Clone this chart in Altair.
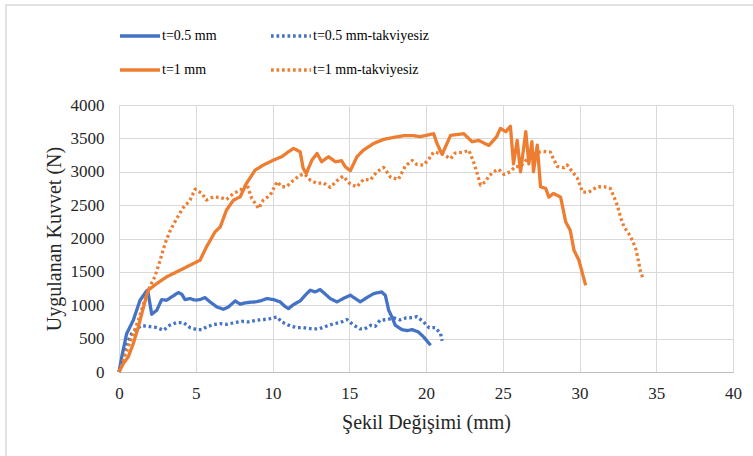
import altair as alt
import pandas as pd

# ---- data ----
series_names = ["t=0.5 mm", "t=0.5 mm-takviyesiz", "t=1 mm", "t=1 mm-takviyesiz"]
series_colors = ["#4472C4", "#4472C4", "#ED7D31", "#ED7D31"]

b05_x = [0, 0.2, 0.5, 0.93, 1.37, 1.8, 1.87, 2.13, 2.46, 2.78,
         3.1, 3.43, 3.87, 4.09, 4.3, 4.63, 4.96, 5.28, 5.6, 5.93,
         6.37, 6.8, 7.13, 7.57, 7.9, 8.2, 8.54, 8.87, 9.2, 9.63,
         10.07, 10.5, 10.8, 11.04, 11.37, 11.8, 12.13, 12.46, 12.78, 13.1,
         13.4, 13.76, 14.2, 14.6, 15.07, 15.4, 15.72, 16.15, 16.6, 17.1,
         17.35, 17.57, 17.78, 18.0, 18.43, 18.77, 19.1, 19.5, 19.85, 20.3]
b05_y = [0, 250, 575, 775, 1075, 1215, 1225, 865, 925, 1085,
         1075, 1125, 1190, 1165, 1085, 1100, 1075, 1085, 1115, 1050,
         975, 940, 975, 1065, 1015, 1035, 1045, 1050, 1065, 1100,
         1085, 1050, 985, 950, 1010, 1065, 1150, 1225, 1200, 1235,
         1175, 1100, 1050, 1100, 1150, 1100, 1050, 1115, 1175, 1200,
         1150, 925, 825, 700, 635, 620, 635, 600, 525, 400]

b05t_x = [0, 0.28, 0.5, 0.83, 1.15, 1.48, 1.9, 2.46, 2.9, 3.3,
          3.76, 4.2, 4.63, 5.07, 5.4, 5.7, 6.15, 6.6, 7.0, 7.46,
          8.0, 8.43, 8.98, 9.4, 9.85, 10.3, 10.6, 11.15, 11.6, 12.0,
          12.57, 13.0, 13.5, 14.0, 14.4, 14.85, 15.3, 15.7, 16.0, 16.4,
          16.7, 17.0, 17.46, 17.9, 18.3, 18.7, 19.1, 19.4, 19.85, 20.2,
          20.6, 20.95, 21.05]
b05t_y = [0, 225, 425, 575, 650, 695, 685, 665, 625, 700,
          740, 740, 665, 635, 635, 675, 710, 725, 715, 735,
          760, 750, 775, 785, 800, 825, 750, 690, 665, 665,
          645, 645, 685, 725, 740, 785, 700, 645, 645, 700,
          685, 775, 785, 810, 780, 810, 815, 830, 750, 665,
          665, 575, 465]

o1_x = [0, 0.28, 0.6, 0.93, 1.26, 1.6, 1.9, 2.46, 3.1, 3.98,
        4.63, 5.28, 5.7, 6.26, 6.6, 7.0, 7.46, 7.9, 8.3, 8.87,
        9.4, 10.07, 10.6, 11.04, 11.37, 11.8, 12.0, 12.2, 12.57, 12.9,
        13.2, 13.65, 14.1, 14.5, 14.74, 15.07, 15.5, 15.93, 16.6, 17.24,
        17.9, 18.54, 19.2, 19.63, 20.5, 20.72, 21.05, 21.6, 22.46, 23.0,
        23.44, 23.77, 24.1, 24.6, 24.85, 25.2, 25.5, 25.7, 25.94, 26.16,
        26.5, 26.7, 26.9, 27.0, 27.25, 27.46, 27.8, 28.0, 28.3, 28.77,
        29.1, 29.4, 29.64, 29.96, 30.4]
o1_y = [0, 125, 225, 425, 675, 975, 1225, 1325, 1425, 1525,
        1600, 1675, 1875, 2100, 2175, 2425, 2575, 2625, 2825, 3025,
        3100, 3175, 3225, 3300, 3350, 3300, 3050, 2975, 3175, 3275,
        3150, 3225, 3150, 3165, 3075, 3015, 3225, 3325, 3425, 3485,
        3515, 3540, 3540, 3525, 3570, 3420, 3260, 3545, 3570, 3450,
        3470, 3430, 3395, 3525, 3650, 3600, 3680, 3120, 3470, 3000,
        3600, 3120, 3450, 3000, 3400, 2775, 2750, 2620, 2675, 2620,
        2250, 2120, 1825, 1675, 1300]

o1t_x = [0, 0.28, 0.6, 0.93, 1.26, 1.6, 2.0, 2.33, 2.65, 3.0,
         3.3, 3.76, 4.2, 4.63, 4.96, 5.4, 5.7, 6.15, 6.6, 7.0,
         7.46, 7.9, 8.33, 8.65, 9.1, 9.4, 9.85, 10.3, 10.6, 10.9,
         11.37, 11.8, 12.1, 12.46, 12.9, 13.3, 13.76, 14.2, 14.6, 15.07,
         15.5, 15.93, 16.37, 16.8, 17.24, 17.7, 18.2, 18.65, 19.1, 19.4,
         19.85, 20.2, 20.5, 21.05, 21.6, 21.9, 22.46, 22.8, 23.1, 23.3,
         23.55, 23.87, 24.1, 24.4, 24.74, 25.07, 25.5, 25.8, 26.16, 26.6,
         27.0, 27.57, 28.1, 28.3, 28.55, 29.0, 29.2, 29.5, 29.85, 30.2,
         30.6, 31.16, 31.6, 32.0, 32.25, 32.46, 32.7, 32.9, 33.2, 33.44,
         33.66, 33.77, 33.87, 33.98, 34.16]
o1t_y = [0, 175, 375, 575, 775, 1025, 1275, 1425, 1650, 1925,
         2100, 2300, 2465, 2575, 2740, 2675, 2575, 2625, 2615, 2585,
         2675, 2725, 2815, 2600, 2450, 2575, 2650, 2850, 2775, 2775,
         2875, 2950, 2965, 2875, 2825, 2835, 2765, 2865, 2935, 2815,
         2775, 2885, 2875, 3000, 3065, 2915, 2885, 3085, 3170, 3110,
         3100, 3195, 3295, 3270, 3195, 3280, 3295, 3320, 3145, 3000,
         2800, 2850, 2935, 3000, 3035, 2960, 3000, 3075, 3080, 3195,
         3270, 3305, 3295, 3195, 3080, 3060, 3100, 3010, 2910, 2695,
         2695, 2775, 2775, 2750, 2625, 2500, 2300, 2175, 2075, 1975,
         1850, 1740, 1625, 1500, 1390]

x_ticks = [0, 5, 10, 15, 20, 25, 30, 35, 40]
y_ticks = [0, 500, 1000, 1500, 2000, 2500, 3000, 3500, 4000]

# ---- build table ----
rows = []
for name, xs, ys in zip(series_names,
                        [b05_x, b05t_x, o1_x, o1t_x],
                        [b05_y, b05t_y, o1_y, o1t_y]):
    assert len(xs) == len(ys), name
    for i, (xv, yv) in enumerate(zip(xs, ys)):
        rows.append({"x": xv, "y": yv, "series": name, "idx": i})
df = pd.DataFrame(rows)

SERIF = "'Times New Roman', 'Liberation Serif', serif"
INK = "#262626"
W, H = 614, 267

legend_spec = dict(title=None, orient="none", legendX=-1, legendY=-91,
                   direction="horizontal", columns=2,
                   symbolType="stroke", symbolSize=1600, symbolStrokeWidth=3.5,
                   labelFont=SERIF, labelFontSize=14, labelFontWeight="normal",
                   labelColor="#000000", labelOffset=0,
                   columnPadding=47, rowPadding=5, padding=0)

lines = alt.Chart(df).mark_line(strokeWidth=3.3, strokeJoin="round").encode(
    x=alt.X("x:Q", scale=alt.Scale(domain=[0, 40], nice=False),
            axis=alt.Axis(values=x_ticks, title="Şekil Değişimi (mm)", format="d",
                          grid=True, gridColor="#d9d9d9", domain=True,
                          domainColor="#bfbfbf", ticks=False, labelFlush=False,
                          labelFont=SERIF, labelFontSize=17, labelColor=INK,
                          labelFontWeight="normal",
                          titleFont=SERIF, titleFontSize=20, titleColor=INK,
                          titleFontWeight="normal",
                          labelPadding=13, titlePadding=11)),
    y=alt.Y("y:Q", scale=alt.Scale(domain=[0, 4000], nice=False),
            axis=alt.Axis(values=y_ticks, title="Uygulanan Kuvvet (N)", format="d",
                          grid=True, gridColor="#d9d9d9", domain=False,
                          ticks=False, labelFlush=False,
                          labelFont=SERIF, labelFontSize=17, labelColor=INK,
                          labelFontWeight="normal",
                          titleFont=SERIF, titleFontSize=20, titleColor=INK,
                          titleFontWeight="normal",
                          labelPadding=15, titlePadding=6)),
    color=alt.Color("series:N",
                    scale=alt.Scale(domain=series_names, range=series_colors),
                    legend=alt.Legend(**legend_spec)),
    strokeDash=alt.StrokeDash("series:N",
                              scale=alt.Scale(domain=series_names,
                                              range=[[1, 0], [2.7, 2.8], [1, 0], [2.7, 2.8]]),
                              legend=alt.Legend(**legend_spec)),
    order=alt.Order("idx:Q"),
)

frame = alt.Chart(pd.DataFrame({"k": [0]})).mark_rect(
    fill="transparent", stroke="#d9d9d9", strokeWidth=1.5
).encode(
    x=alt.value(-113), x2=alt.value(W + 40),
    y=alt.value(-100), y2=alt.value(H + 120),
)

chart = alt.layer(frame, lines).properties(
    width=W, height=H,
    padding={"left": 119, "top": 105, "right": 20, "bottom": 84},
    autosize=alt.AutoSizeParams(type="none"),
    background="white",
).configure_view(strokeWidth=0).configure_legend(
    labelFont=SERIF, labelFontSize=14, labelFontWeight="normal"
).configure_axis(
    labelFont=SERIF, labelFontSize=17, labelColor=INK,
    titleFont=SERIF, titleFontSize=20, titleFontWeight="normal",
    titleColor=INK,
)

chart.save("out.html", embed_options={"renderer": "svg", "actions": False})
